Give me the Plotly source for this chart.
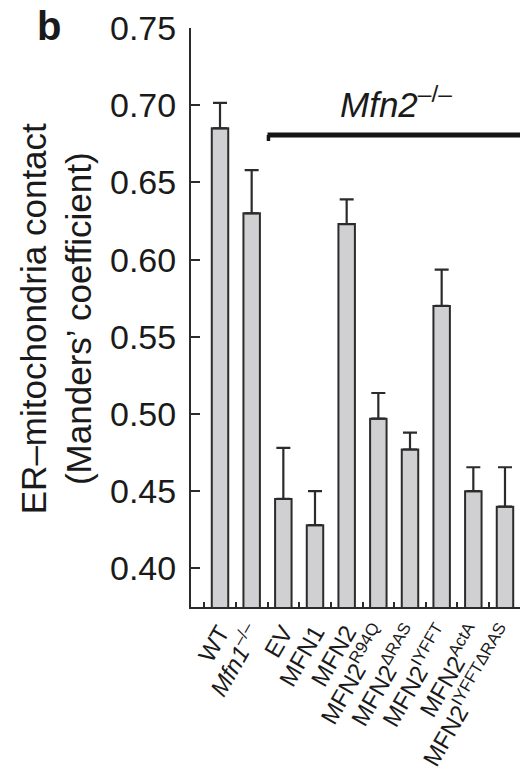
import plotly.graph_objects as go

categories = ["WT", "<i>Mfn1</i><sup>–/–</sup>", "EV", "MFN1", "MFN2",
              "MFN2<sup>R94Q</sup>", "MFN2<sup>ΔRAS</sup>", "MFN2<sup>IYFFT</sup>",
              "MFN2<sup>ActA</sup>", "MFN2<sup>IYFFTΔRAS</sup>"]
means = [0.685, 0.630, 0.445, 0.428, 0.623, 0.497, 0.477, 0.570, 0.450, 0.440]
err_plus = [0.0165, 0.028, 0.033, 0.022, 0.016, 0.0166, 0.011, 0.0235, 0.0155, 0.0255]
y_ticks = [0.40, 0.45, 0.50, 0.55, 0.60, 0.65, 0.70, 0.75]

FONT = "Liberation Sans, Arial, Helvetica, sans-serif"
AX = "#2b2b2b"

fig = go.Figure()
fig.add_trace(go.Bar(
    x=categories, y=means, width=0.52,
    marker=dict(color="#d0d0d2", line=dict(color=AX, width=2)),
    error_y=dict(type="data", array=err_plus, arrayminus=[0]*len(means),
                 symmetric=False, color=AX, thickness=2.2, width=7),
    hoverinfo="skip",
))

# Mfn2-/- bracket line
fig.add_shape(type="line", xref="x", yref="y", x0=1.5, x1=9.6, y0=0.6807, y1=0.6807,
              line=dict(color="#151515", width=5))
fig.add_shape(type="line", xref="x", yref="y", x0=1.53, x1=1.53, y0=0.6807, y1=0.6768,
              line=dict(color="#151515", width=3.5))
fig.add_annotation(x=5.55, y=0.6868, xref="x", yref="y", xanchor="center", yanchor="bottom",
                   text="<i>Mfn2</i><sup>–/–</sup>", showarrow=False,
                   font=dict(family=FONT, size=35, color="#1a1a1a"))

fig.add_annotation(x=(56 - 191) / 329, y=0.497, xref="paper", yref="paper", xanchor="center", yanchor="middle",
                   text="ER–mitochondria contact<br>(Manders’ coefficient)", textangle=-90,
                   showarrow=False, font=dict(family=FONT, size=35, color="#1a1a1a"))
fig.add_annotation(x=(49 - 191) / 329, y=(607 - 26) / 579, xref="paper", yref="paper",
                   xanchor="center", yanchor="middle", text="<b>b</b>", showarrow=False,
                   font=dict(family=FONT, size=40, color="#1a1a1a"))

fig.update_layout(
    width=520, height=784,
    margin=dict(l=191, r=0, t=28, b=177),
    paper_bgcolor="white", plot_bgcolor="white",
    showlegend=False,
    font=dict(family=FONT, color="#1a1a1a"),
    xaxis=dict(type="category", range=[-0.916, 9.474], showline=True, linewidth=2, linecolor=AX,
               ticks="inside", tickson="boundaries", ticklen=5, tickwidth=2, tickcolor=AX,
               tickangle=-60, tickfont=dict(family=FONT, size=24, color="#1a1a1a"),
               showgrid=False, zeroline=False, automargin=False),
    yaxis=dict(range=[0.375, 0.75], showline=True, linewidth=2, linecolor=AX,
               ticks="inside", ticklen=9, tickwidth=2, tickcolor=AX,
               tickmode="array", tickvals=y_ticks, tickformat=".2f",
               tickfont=dict(family=FONT, size=34, color="#1a1a1a"),
               ticklabelstandoff=6, showgrid=False, zeroline=False, automargin=False),
)

fig.write_html("out.html", config={"displayModeBar": False},
               post_script="document.body.style.margin='0';")
